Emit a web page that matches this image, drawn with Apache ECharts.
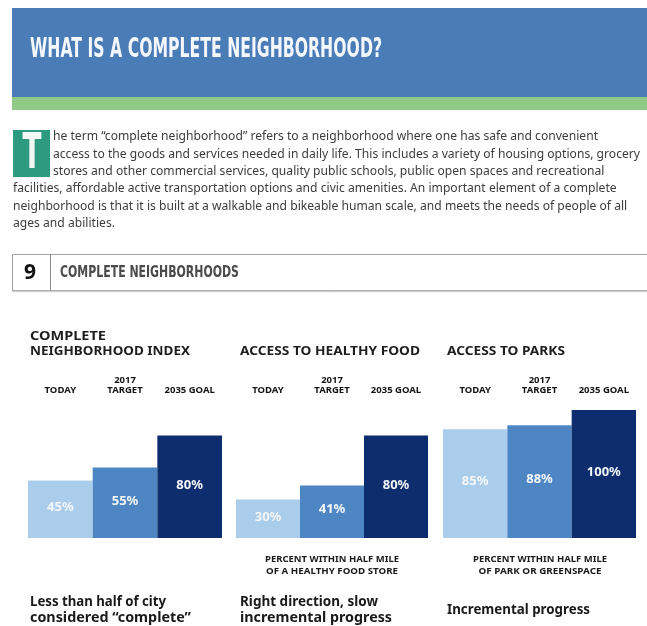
<!DOCTYPE html>
<html>
<head>
<meta charset="utf-8">
<script src="https://cdn.jsdelivr.net/npm/echarts@6/dist/echarts.min.js"></script>
<style>
  html, body { margin: 0; padding: 0; background: #fff; }
  #chart { width: 647px; height: 626px; }
</style>
</head>
<body>
<div id="chart"></div>
<script>
// values
const categories = ['TODAY', '2017\nTARGET', '2035 GOAL'];
const neighborhoodIndex = [45, 55, 80];
const healthyFood = [30, 41, 80];
const parkAccess = [85, 88, 100];
const barColors = ['#abcdec', '#4e86c4', '#0d2d6e'];

const panelTitles = [
  ['COMPLETE', 'NEIGHBORHOOD INDEX'],
  ['ACCESS TO HEALTHY FOOD'],
  ['ACCESS TO PARKS']
];
const panelNotes = [
  [],
  ['PERCENT WITHIN HALF MILE', 'OF A HEALTHY FOOD STORE'],
  ['PERCENT WITHIN HALF MILE', 'OF PARK OR GREENSPACE']
];
const panelTakeaways = [
  ['Less than half of city', 'considered “complete”'],
  ['Right direction, slow', 'incremental progress'],
  ['Incremental progress']
];
const introLines = [
  'he term “complete neighborhood” refers to a neighborhood where one has safe and convenient',
  'access to the goods and services needed in daily life. This includes a variety of housing options, grocery',
  'stores and other commercial services, quality public schools, public open spaces and recreational',
  'facilities, affordable active transportation options and civic amenities. An important element of a complete',
  'neighborhood is that it is built at a walkable and bikeable human scale, and meets the needs of people of all',
  'ages and abilities.'
];

const chart = echarts.init(document.getElementById('chart'));
const measureCtx = document.createElement('canvas').getContext('2d');

function fitScale(text, size, weight, family, width) {
  measureCtx.font = `${weight} ${size}px ${family}`;
  return width / measureCtx.measureText(text).width;
}

function label(text, x, y, o) {
  const weight = o.weight || 'normal';
  const family = o.family || 'Noto Sans';
  let scaleX = o.scale || 1;
  if (o.width) scaleX = fitScale(text, o.size, weight, family, o.width);
  return {
    type: 'text', x, y, scaleX, silent: true, z: 10,
    style: {
      text, fontSize: o.size, fontWeight: weight, fontFamily: family,
      fill: o.color || '#222', align: o.align || 'left', verticalAlign: 'middle'
    }
  };
}

const narrow = 'DejaVu Sans';
const graphics = [
  // header band
  { type: 'rect', z: 1, shape: { x: 12, y: 8, width: 635, height: 89 }, style: { fill: '#4a7cb7' } },
  { type: 'rect', z: 1, shape: { x: 12, y: 97, width: 635, height: 13 }, style: { fill: '#8fcb87' } },
  label('WHAT IS A COMPLETE NEIGHBORHOOD?', 30, 50,
    { size: 26, weight: 'bold', family: narrow, color: '#f4f7fb', width: 352 }),
  // drop cap
  { type: 'rect', z: 1, shape: { x: 13, y: 130, width: 37, height: 47 }, style: { fill: '#2e9a80' } },
  label('T', 32, 155, { size: 50, weight: 'bold', family: narrow, color: '#f2f6f4', align: 'center', width: 19 }),
  // section header box
  { type: 'rect', z: 1, shape: { x: 12.5, y: 254.5, width: 640, height: 36 }, style: { fill: '#fff', stroke: '#a3a3a3', lineWidth: 1 } },
  { type: 'line', z: 1, shape: { x1: 12, y1: 291.5, x2: 647, y2: 291.5 }, style: { stroke: '#cfcfcf', lineWidth: 1.5 } },
  { type: 'line', z: 1, shape: { x1: 50.5, y1: 254, x2: 50.5, y2: 291 }, style: { stroke: '#8a8a8a', lineWidth: 1 } },
  label('9', 30, 273, { size: 21, weight: 'bold', color: '#111', align: 'center' }),
  label('COMPLETE NEIGHBORHOODS', 60, 273,
    { size: 16, weight: 'bold', family: narrow, color: '#4b4b4b', width: 179 })
];

// intro paragraph, one shared horizontal squeeze
const introScale = fitScale(introLines[1], 12, 'normal', 'Noto Sans', 587);
introLines.forEach((line, i) => {
  const x = i < 3 ? 53 : 13;
  graphics.push(label(line, x, 137 + i * 17.3, { size: 12, color: '#3c3c3c', scale: introScale }));
});

// panel texts
const panelX = [30, 240, 447];
const noteCenters = [125, 332, 540];
const titleWidths = [[76, 160], [180], [118]];
const noteWidths = [134, 132];
const takeawayWidths = [[136, 161], [138, 152], [143]];
panelTitles.forEach((lines, p) => {
  lines.forEach((t, i) => {
    const y = lines.length === 2 ? 336.5 + i * 14.5 : 351;
    graphics.push(label(t, panelX[p], y, { size: 13, weight: 'bold', color: '#1e1e1e', width: titleWidths[p][i] }));
  });
  panelNotes[p].forEach((t, i) => {
    graphics.push(label(t, noteCenters[p], 559 + i * 12, {
      size: 9, weight: 'bold', color: '#1a1a1a', align: 'center', width: p === 2 && i === 1 ? 123 : noteWidths[i]
    }));
  });
  panelTakeaways[p].forEach((t, i) => {
    const y = panelTakeaways[p].length === 2 ? 602 + i * 16 : 610;
    graphics.push(label(t, panelX[p], y, { size: 15, weight: 'bold', color: '#1a1a1a', width: takeawayWidths[p][i] }));
  });
});

const panels = [neighborhoodIndex, healthyFood, parkAccess];
const grids = [
  { left: 28, top: 410, width: 194, height: 128 },
  { left: 236, top: 410, width: 192, height: 128 },
  { left: 443, top: 410, width: 193, height: 128 }
];

chart.setOption({
  animation: false,
  grid: grids,
  xAxis: grids.map((_, i) => ({
    type: 'category',
    gridIndex: i,
    position: 'top',
    data: categories,
    axisLine: { show: false },
    axisTick: { show: false },
    axisLabel: {
      margin: 14,
      color: '#141414',
      fontFamily: 'Noto Sans',
      fontWeight: 'bold',
      fontSize: 9.5,
      lineHeight: 10.5,
      interval: 0
    }
  })),
  yAxis: grids.map((_, i) => ({
    type: 'value', gridIndex: i, min: 0, max: 100, show: false
  })),
  series: panels.map((values, i) => ({
    type: 'bar',
    xAxisIndex: i,
    yAxisIndex: i,
    data: values,
    barCategoryGap: 0,
    itemStyle: { color: (p) => barColors[p.dataIndex] },
    label: {
      show: true,
      position: 'inside',
      offset: [0, -2],
      formatter: '{c}%',
      color: '#f4f6fa',
      fontFamily: 'Noto Sans',
      fontWeight: 'bold',
      fontSize: 13
    }
  })),
  graphic: graphics
});
</script>
</body>
</html>
